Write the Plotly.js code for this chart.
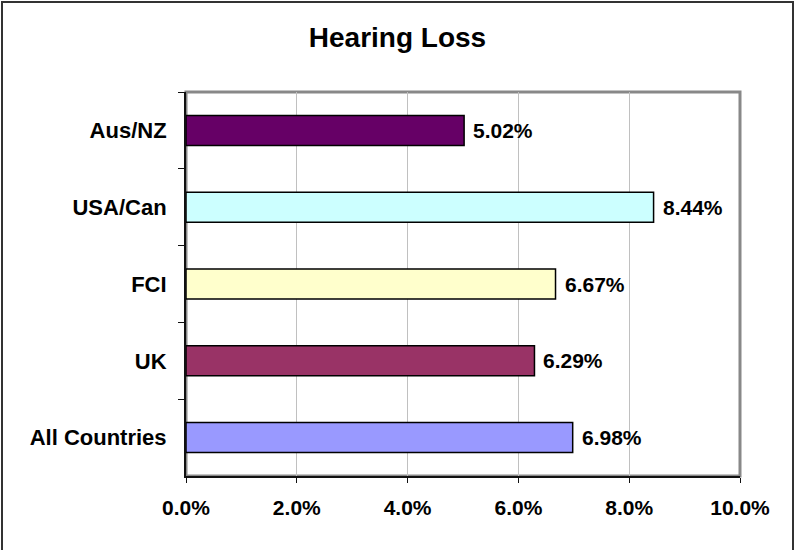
<!DOCTYPE html>
<html>
<head>
<meta charset="utf-8">
<script src="https://cdn.plot.ly/plotly-3.0.1.min.js"></script>
<style>
  html, body { margin: 0; padding: 0; background: #fff; overflow: hidden; }
  #wrap { position: relative; width: 795px; height: 550px; }
  #chart { width: 795px; height: 550px; }
  #frame { position: absolute; left: 1px; top: 1px; width: 789px; height: 600px;
           border: 2px solid #333; pointer-events: none; }
</style>
</head>
<body>
<div id="wrap">
  <div id="chart"></div>
  <div id="frame"></div>
</div>
<script>
const categories = ["Aus/NZ", "USA/Can", "FCI", "UK", "All Countries"];
const values = [0.0502, 0.0844, 0.0667, 0.0629, 0.0698];
const barColors = ["#660066", "#CCFFFF", "#FFFFCC", "#993366", "#9999FF"];
const xTicks = [0, 0.02, 0.04, 0.06, 0.08, 0.10];

const fontFam = "Liberation Sans, Arial, sans-serif";

const trace = {
  type: "bar",
  orientation: "h",
  x: values,
  y: categories,
  width: 0.39,
  marker: { color: barColors, line: { color: "#000", width: 1.5 } },
  hoverinfo: "skip"
};

const annotations = values.map((v, i) => ({
  x: v, y: categories[i], xref: "x", yref: "y",
  text: (v * 100).toFixed(2) + "%",
  showarrow: false, xanchor: "left", yanchor: "middle", xshift: 7,
  font: { family: fontFam, size: 21, color: "#000", weight: "bold" }
}));

const layout = {
  width: 795, height: 550,
  margin: { l: 186, r: 55, t: 92, b: 74 },
  paper_bgcolor: "#fff",
  plot_bgcolor: "#fff",
  showlegend: false,
  font: { family: fontFam, color: "#000", weight: "bold" },
  title: {
    text: "Hearing Loss",
    font: { family: fontFam, size: 28, color: "#000", weight: "bold" },
    x: 0.5, xref: "container", xanchor: "center",
    y: 1 - 37 / 550, yref: "container", yanchor: "middle"
  },
  xaxis: {
    range: [0, 0.10],
    tickvals: xTicks,
    tickformat: ".1%",
    showgrid: true, gridcolor: "#c0c0c0", gridwidth: 1,
    zeroline: false,
    showline: true, linecolor: "#111", linewidth: 2,
    ticks: "outside", ticklen: 5, tickcolor: "#111", tickwidth: 1,
    ticklabelstandoff: 7,
    tickfont: { family: fontFam, size: 21, color: "#000", weight: "bold" },
    fixedrange: true
  },
  yaxis: {
    type: "category",
    autorange: "reversed",
    showgrid: false, zeroline: false,
    showline: true, linecolor: "#111", linewidth: 2,
    ticks: "outside", ticklen: 6, tickcolor: "#111", tickwidth: 1,
    tickson: "boundaries",
    ticklabelstandoff: 13,
    tickfont: { family: fontFam, size: 22, color: "#000", weight: "bold" },
    fixedrange: true
  },
  shapes: [{
    type: "rect", xref: "paper", yref: "paper", x0: 0, x1: 1, y0: 0, y1: 1,
    line: { color: "#888", width: 3 }, layer: "below"
  }],
  annotations: annotations
};

Plotly.newPlot("chart", [trace], layout, { displayModeBar: false, staticPlot: true });
</script>
</body>
</html>
